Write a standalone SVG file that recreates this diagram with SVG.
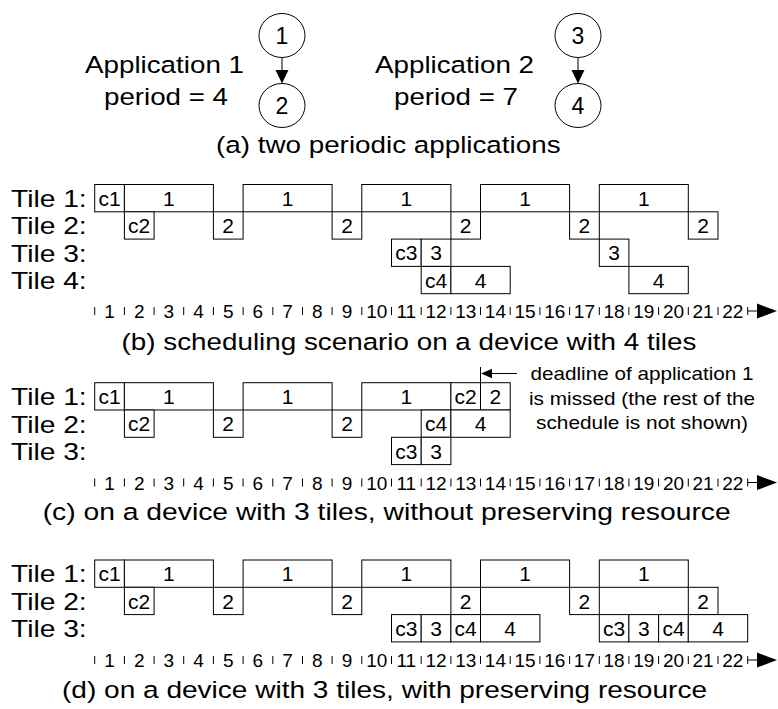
<svg xmlns="http://www.w3.org/2000/svg" xmlns:xlink="http://www.w3.org/1999/xlink" width="778" height="709" viewBox="0 0 778 709">
  <style>
    text { font-family: "Liberation Sans", Arial, sans-serif; fill: #000; }
    .big { font-size: 24.5px; }
    .cap { font-size: 24.5px; text-anchor: middle; }
    .lbl { font-size: 21px; text-anchor: middle; }
    .num { font-size: 23px; text-anchor: middle; }
    .ax { font-size: 19px; text-anchor: middle; }
    .note { font-size: 19px; text-anchor: middle; }
    .box { fill: #fff; stroke: #000; stroke-width: 1; }
    .node { fill: #fff; stroke: #000; stroke-width: 1; }
    .line { fill: none; stroke: #000; stroke-width: 1; }
    .head { fill: #000; stroke: none; }
  </style>
  <defs>
    <!-- time axis: ticks at every unit, numbers between ticks, arrow at the end -->
    <g id="axis">
      <path class="line" d="M94.7 -4V4M124.4 -4V4M154.1 -4V4M183.7 -4V4M213.4 -4V4M243.1 -4V4M272.8 -4V4M302.5 -4V4M332.1 -4V4M361.8 -4V4M391.5 -4V4M421.2 -4V4M450.9 -4V4M480.5 -4V4M510.2 -4V4M539.9 -4V4M569.6 -4V4M599.3 -4V4M628.9 -4V4M658.6 -4V4M688.3 -4V4M718 -4V4M747.7 -4V4M747.7 0H760"/>
      <polygon class="head" points="757,-7.5 777,0 757,7.5"/>
      <g class="ax">
        <text x="109.5" y="7">1</text><text x="139.2" y="7">2</text><text x="168.9" y="7">3</text>
        <text x="198.6" y="7">4</text><text x="228.3" y="7">5</text><text x="257.9" y="7">6</text>
        <text x="287.6" y="7">7</text><text x="317.3" y="7">8</text><text x="347" y="7">9</text>
        <text x="376.7" y="7">10</text><text x="406.3" y="7">11</text><text x="436" y="7">12</text>
        <text x="465.7" y="7">13</text><text x="495.4" y="7">14</text><text x="525.1" y="7">15</text>
        <text x="554.7" y="7">16</text><text x="584.4" y="7">17</text><text x="614.1" y="7">18</text>
        <text x="643.8" y="7">19</text><text x="673.5" y="7">20</text><text x="703.1" y="7">21</text>
        <text x="732.8" y="7">22</text>
      </g>
    </g>
  </defs>

  <!-- (a) task graphs of the two applications -->
  <text class="cap" x="164.5" y="73" textLength="159" lengthAdjust="spacingAndGlyphs">Application 1</text>
  <text class="cap" x="166" y="105" textLength="124" lengthAdjust="spacingAndGlyphs">period = 4</text>
  <text class="cap" x="454.5" y="73" textLength="159" lengthAdjust="spacingAndGlyphs">Application 2</text>
  <text class="cap" x="456" y="105" textLength="124" lengthAdjust="spacingAndGlyphs">period = 7</text>

  <g id="connectors">
    <path class="line" d="M282 57.5V72"/>
    <polygon class="head" points="275.5,70 288.5,70 282,83.5"/>
    <path class="line" d="M578 57.5V72"/>
    <polygon class="head" points="571.5,70 584.5,70 578,83.5"/>
  </g>

  <g id="task1"><ellipse class="node" cx="282" cy="35.5" rx="23" ry="22"/><text class="num" x="282" y="43.5">1</text></g>
  <g id="task2"><ellipse class="node" cx="282" cy="105.5" rx="23" ry="22"/><text class="num" x="282" y="113.5">2</text></g>
  <g id="task3"><ellipse class="node" cx="578" cy="35.5" rx="23" ry="22"/><text class="num" x="578" y="43.5">3</text></g>
  <g id="task4"><ellipse class="node" cx="578" cy="105.5" rx="23" ry="22"/><text class="num" x="578" y="113.5">4</text></g>

  <text class="cap" x="388.3" y="153" textLength="344.5" lengthAdjust="spacingAndGlyphs">(a) two periodic applications</text>

  <!-- (b) schedule on four tiles -->
  <g id="sched-b">
    <text class="big" x="11" y="207" textLength="75.7" lengthAdjust="spacingAndGlyphs">Tile 1:</text>
    <text class="big" x="11" y="234.3" textLength="75.7" lengthAdjust="spacingAndGlyphs">Tile 2:</text>
    <text class="big" x="11" y="261.6" textLength="75.7" lengthAdjust="spacingAndGlyphs">Tile 3:</text>
    <text class="big" x="11" y="288.9" textLength="75.7" lengthAdjust="spacingAndGlyphs">Tile 4:</text>
    <g id="b-tile1">
      <rect class="box" x="94.7" y="184.5" width="29.7" height="27.3"/><text class="lbl" x="109.5" y="205.8">c1</text>
      <rect class="box" x="124.4" y="184.5" width="89" height="27.3"/><text class="lbl" x="168.9" y="205.8">1</text>
      <rect class="box" x="243.1" y="184.5" width="89" height="27.3"/><text class="lbl" x="287.6" y="205.8">1</text>
      <rect class="box" x="361.8" y="184.5" width="89.1" height="27.3"/><text class="lbl" x="406.3" y="205.8">1</text>
      <rect class="box" x="480.5" y="184.5" width="89.1" height="27.3"/><text class="lbl" x="525.1" y="205.8">1</text>
      <rect class="box" x="599.3" y="184.5" width="89" height="27.3"/><text class="lbl" x="643.8" y="205.8">1</text>
    </g>
    <g id="b-tile2">
      <rect class="box" x="124.4" y="211.8" width="29.7" height="27.3"/><text class="lbl" x="139.2" y="233.1">c2</text>
      <rect class="box" x="213.4" y="211.8" width="29.7" height="27.3"/><text class="lbl" x="228.2" y="233.1">2</text>
      <rect class="box" x="332.1" y="211.8" width="29.7" height="27.3"/><text class="lbl" x="347" y="233.1">2</text>
      <rect class="box" x="450.9" y="211.8" width="29.6" height="27.3"/><text class="lbl" x="465.7" y="233.1">2</text>
      <rect class="box" x="569.6" y="211.8" width="29.7" height="27.3"/><text class="lbl" x="584.4" y="233.1">2</text>
      <rect class="box" x="688.3" y="211.8" width="29.7" height="27.3"/><text class="lbl" x="703.1" y="233.1">2</text>
    </g>
    <g id="b-tile3">
      <rect class="box" x="391.5" y="239.1" width="29.7" height="27.3"/><text class="lbl" x="406.3" y="260.4">c3</text>
      <rect class="box" x="421.2" y="239.1" width="29.7" height="27.3"/><text class="lbl" x="436" y="260.4">3</text>
      <rect class="box" x="599.3" y="239.1" width="29.6" height="27.3"/><text class="lbl" x="614.1" y="260.4">3</text>
    </g>
    <g id="b-tile4">
      <rect class="box" x="421.2" y="266.4" width="29.7" height="27.3"/><text class="lbl" x="436" y="287.7">c4</text>
      <rect class="box" x="450.9" y="266.4" width="59.3" height="27.3"/><text class="lbl" x="480.5" y="287.7">4</text>
      <rect class="box" x="628.9" y="266.4" width="59.4" height="27.3"/><text class="lbl" x="658.6" y="287.7">4</text>
    </g>
    <use xlink:href="#axis" href="#axis" transform="translate(0,311)"/>
    <text class="cap" x="409" y="350" textLength="574.8" lengthAdjust="spacingAndGlyphs">(b) scheduling scenario on a device with 4 tiles</text>
  </g>

  <!-- (c) three tiles, no resource kept for application 1 -->
  <g id="sched-c">
    <text class="big" x="11" y="405.2" textLength="75.7" lengthAdjust="spacingAndGlyphs">Tile 1:</text>
    <text class="big" x="11" y="432.5" textLength="75.7" lengthAdjust="spacingAndGlyphs">Tile 2:</text>
    <text class="big" x="11" y="459.8" textLength="75.7" lengthAdjust="spacingAndGlyphs">Tile 3:</text>
    <g id="c-tile1">
      <rect class="box" x="94.7" y="382.7" width="29.7" height="27.3"/><text class="lbl" x="109.5" y="404">c1</text>
      <rect class="box" x="124.4" y="382.7" width="89" height="27.3"/><text class="lbl" x="168.9" y="404">1</text>
      <rect class="box" x="243.1" y="382.7" width="89" height="27.3"/><text class="lbl" x="287.6" y="404">1</text>
      <rect class="box" x="361.8" y="382.7" width="89.1" height="27.3"/><text class="lbl" x="406.3" y="404">1</text>
      <rect class="box" x="450.9" y="382.7" width="29.6" height="27.3"/><text class="lbl" x="465.7" y="404">c2</text>
      <rect class="box" x="480.5" y="382.7" width="29.7" height="27.3"/><text class="lbl" x="495.4" y="404">2</text>
    </g>
    <g id="c-tile2">
      <rect class="box" x="124.4" y="410" width="29.7" height="27.3"/><text class="lbl" x="139.2" y="431.3">c2</text>
      <rect class="box" x="213.4" y="410" width="29.7" height="27.3"/><text class="lbl" x="228.2" y="431.3">2</text>
      <rect class="box" x="332.1" y="410" width="29.7" height="27.3"/><text class="lbl" x="347" y="431.3">2</text>
      <rect class="box" x="421.2" y="410" width="29.7" height="27.3"/><text class="lbl" x="436" y="431.3">c4</text>
      <rect class="box" x="450.9" y="410" width="59.3" height="27.3"/><text class="lbl" x="480.5" y="431.3">4</text>
    </g>
    <g id="c-tile3">
      <rect class="box" x="391.5" y="437.3" width="29.7" height="27.3"/><text class="lbl" x="406.3" y="458.6">c3</text>
      <rect class="box" x="421.2" y="437.3" width="29.7" height="27.3"/><text class="lbl" x="436" y="458.6">3</text>
    </g>
    <g id="deadline">
      <path class="line" d="M480.5 367V382.7M490 373.5H517"/>
      <polygon class="head" points="481,373.5 492,368.8 492,378.2"/>
      <text class="note" x="642" y="379.5" textLength="223" lengthAdjust="spacingAndGlyphs">deadline of application 1</text>
      <text class="note" x="642" y="404.5" textLength="226" lengthAdjust="spacingAndGlyphs">is missed (the rest of the</text>
      <text class="note" x="642" y="428.5" textLength="212" lengthAdjust="spacingAndGlyphs">schedule is not shown)</text>
    </g>
    <use xlink:href="#axis" href="#axis" transform="translate(0,482.5)"/>
    <text class="cap" x="386.7" y="520" textLength="688" lengthAdjust="spacingAndGlyphs">(c) on a device with 3 tiles, without preserving resource</text>
  </g>

  <!-- (d) three tiles, one tile kept for application 1 -->
  <g id="sched-d">
    <text class="big" x="11" y="582.4" textLength="75.7" lengthAdjust="spacingAndGlyphs">Tile 1:</text>
    <text class="big" x="11" y="609.7" textLength="75.7" lengthAdjust="spacingAndGlyphs">Tile 2:</text>
    <text class="big" x="11" y="637" textLength="75.7" lengthAdjust="spacingAndGlyphs">Tile 3:</text>
    <g id="d-tile1">
      <rect class="box" x="94.7" y="560" width="29.7" height="27.3"/><text class="lbl" x="109.5" y="581.3">c1</text>
      <rect class="box" x="124.4" y="560" width="89" height="27.3"/><text class="lbl" x="168.9" y="581.3">1</text>
      <rect class="box" x="243.1" y="560" width="89" height="27.3"/><text class="lbl" x="287.6" y="581.3">1</text>
      <rect class="box" x="361.8" y="560" width="89.1" height="27.3"/><text class="lbl" x="406.3" y="581.3">1</text>
      <rect class="box" x="480.5" y="560" width="89.1" height="27.3"/><text class="lbl" x="525.1" y="581.3">1</text>
      <rect class="box" x="599.3" y="560" width="89" height="27.3"/><text class="lbl" x="643.8" y="581.3">1</text>
    </g>
    <g id="d-tile2">
      <rect class="box" x="124.4" y="587.3" width="29.7" height="27.3"/><text class="lbl" x="139.2" y="608.6">c2</text>
      <rect class="box" x="213.4" y="587.3" width="29.7" height="27.3"/><text class="lbl" x="228.2" y="608.6">2</text>
      <rect class="box" x="332.1" y="587.3" width="29.7" height="27.3"/><text class="lbl" x="347" y="608.6">2</text>
      <rect class="box" x="450.9" y="587.3" width="29.6" height="27.3"/><text class="lbl" x="465.7" y="608.6">2</text>
      <rect class="box" x="569.6" y="587.3" width="29.7" height="27.3"/><text class="lbl" x="584.4" y="608.6">2</text>
      <rect class="box" x="688.3" y="587.3" width="29.7" height="27.3"/><text class="lbl" x="703.1" y="608.6">2</text>
    </g>
    <g id="d-tile3">
      <rect class="box" x="391.5" y="614.6" width="29.7" height="27.3"/><text class="lbl" x="406.3" y="635.9">c3</text>
      <rect class="box" x="421.2" y="614.6" width="29.7" height="27.3"/><text class="lbl" x="436" y="635.9">3</text>
      <rect class="box" x="450.9" y="614.6" width="29.6" height="27.3"/><text class="lbl" x="465.7" y="635.9">c4</text>
      <rect class="box" x="480.5" y="614.6" width="59.4" height="27.3"/><text class="lbl" x="510.2" y="635.9">4</text>
      <rect class="box" x="599.3" y="614.6" width="29.6" height="27.3"/><text class="lbl" x="614.1" y="635.9">c3</text>
      <rect class="box" x="628.9" y="614.6" width="29.7" height="27.3"/><text class="lbl" x="643.8" y="635.9">3</text>
      <rect class="box" x="658.6" y="614.6" width="29.7" height="27.3"/><text class="lbl" x="673.5" y="635.9">c4</text>
      <rect class="box" x="688.3" y="614.6" width="59.4" height="27.3"/><text class="lbl" x="718" y="635.9">4</text>
    </g>
    <use xlink:href="#axis" href="#axis" transform="translate(0,660)"/>
    <text class="cap" x="384.5" y="698" textLength="645" lengthAdjust="spacingAndGlyphs">(d) on a device with 3 tiles, with preserving resource</text>
  </g>
</svg>
